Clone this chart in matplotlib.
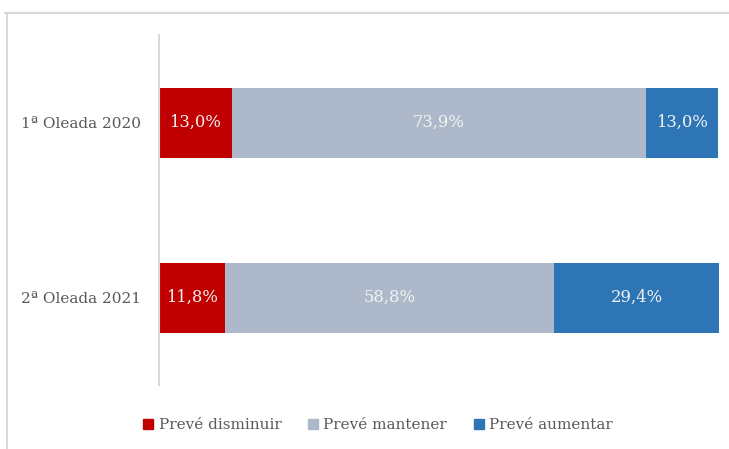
import matplotlib.pyplot as plt
import matplotlib.patches as mpatches
from matplotlib.lines import Line2D

categories = ['1ª Oleada 2020', '2ª Oleada 2021']
disminuir = [13.0, 11.8]
mantener = [73.9, 58.8]
aumentar = [13.0, 29.4]

series = [
    ('Prevé disminuir', disminuir, '#C00000'),
    ('Prevé mantener', mantener, '#ADB9CA'),
    ('Prevé aumentar', aumentar, '#2E75B6'),
]

plt.rcParams['font.family'] = ['DejaVu Serif']

fig = plt.figure(figsize=(7.29, 4.49), dpi=100)
ax = fig.add_axes([159 / 729, 64 / 449, 560 / 729, 350 / 449])

y = [1.5, 0.5]
left = [0.0, 0.0]
handles = []
for name, vals, color in series:
    bars = ax.barh(y, vals, left=left, height=0.4, color=color, edgecolor='none')
    for b, v, l in zip(bars, vals, left):
        ax.text(l + v / 2, b.get_y() + b.get_height() / 2,
                f'{v:.1f}%'.replace('.', ','), ha='center', va='center',
                color='#F2F2F2', fontsize=11.8)
    left = [a + b for a, b in zip(left, vals)]
    handles.append(mpatches.Patch(color=color, label=name))

ax.set_xlim(0, 100)
ax.set_ylim(0, 2)
ax.set_yticks(y)
ax.set_yticklabels(categories, color='#595959', fontsize=11)
ax.tick_params(axis='y', length=0, pad=13)
ax.set_xticks([])
for s in ['top', 'right', 'bottom']:
    ax.spines[s].set_visible(False)
ax.spines['left'].set_color('#D9D9D9')
ax.spines['left'].set_linewidth(1.5)

leg = fig.legend(handles=handles, loc='center', bbox_to_anchor=(378 / 729, 1 - 425 / 449),
                 ncol=3, frameon=False, handlelength=0.65, handleheight=0.65,
                 handletextpad=0.35, columnspacing=1.75, fontsize=11)
for t in leg.get_texts():
    t.set_color('#595959')

# outer frame lines
fig.add_artist(Line2D([5 / 729, 1], [1 - 13 / 449, 1 - 13 / 449], color='#D9D9D9', lw=1.5))
fig.add_artist(Line2D([7 / 729, 7 / 729], [0, 1 - 13 / 449], color='#D9D9D9', lw=1.5))

fig.savefig('out.png', dpi=100)
